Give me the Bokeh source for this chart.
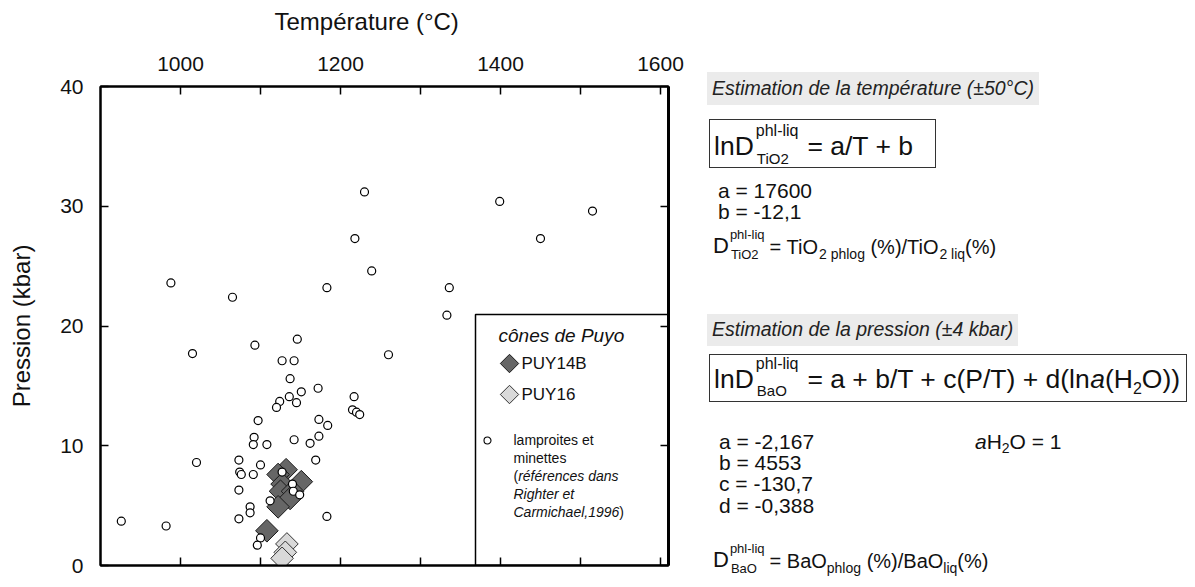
import numpy as np
from bokeh.plotting import figure
from bokeh.models import Range1d, LinearAxis, FixedTicker, BoxAnnotation, Label, Div
from bokeh.layouts import row, column
from bokeh.embed import file_html
from bokeh.resources import INLINE

FONT = "Liberation Sans"

# ---------------- data ----------------
lamp_T = [926, 982, 1015, 1020, 1093, 1146, 1127, 1142, 1137, 1151, 1136, 1145, 1172,
          1124, 1120, 1217, 1215, 1220, 1224, 1260, 1097, 1173, 1184, 1092, 1091, 1108,
          1142, 1173, 1162, 1073, 1100, 1169, 1074, 1076, 1091, 1073, 1087, 1087, 1073,
          1183, 1100, 1096, 1127, 1140, 1141, 1149, 1112,
          1230, 1218, 1239, 988, 1183, 1065, 1399, 1515, 1450, 1336, 1333]
lamp_P = [3.7, 3.3, 17.7, 8.6, 18.4, 18.9, 17.1, 17.1, 15.6, 14.5, 14.1, 13.6, 14.8,
          13.7, 13.2, 14.1, 13.0, 12.8, 12.6, 17.6, 12.1, 12.2, 11.7, 10.7, 10.1, 10.1,
          10.5, 10.8, 10.2, 8.8, 8.4, 8.8, 7.8, 7.6, 7.6, 6.3, 4.9, 4.4, 3.9,
          4.1, 2.3, 1.7, 7.8, 6.8, 6.2, 5.9, 5.4,
          31.2, 27.3, 24.6, 23.6, 23.2, 22.4, 30.4, 29.6, 27.3, 23.2, 20.9]

puy14b_T = [1132, 1122, 1151, 1127, 1125, 1140, 1137, 1122, 1108]
puy14b_P = [8.0, 7.6, 7.0, 6.8, 6.2, 6.2, 5.6, 4.9, 2.9]

puy16_T = [1133, 1131, 1127]
puy16_P = [1.8, 1.1, 0.6]

x_major = [1000, 1200, 1400, 1600]
x_minor = [1100, 1300, 1500]
y_major = [0, 10, 20, 30, 40]
X_MIN, X_MAX = 900, 1610
Y_MIN, Y_MAX = 0, 40

# ---------------- geometry (page pixels) ----------------
TOTAL_W, TOTAL_H = 1190, 582
TH = 40                       # height of the title strip
PW = 688                      # width of the plot
H = TOTAL_H - TH              # height of plot row
FL, FT, FR, FB = 100, 86, 668, 565   # frame edges in page pixels


def DX(X):
    return X_MIN + (X - FL) * (X_MAX - X_MIN) / (FR - FL)


def DY(Y):
    return Y_MIN + (FB - Y) * (Y_MAX - Y_MIN) / (FB - FT)


AW = {' ': 278, '!': 278, '%': 889, '(': 333, ')': 333, '+': 584, ',': 278, '-': 333,
      '.': 278, '/': 278, '=': 584, '°': 400, '±': 584, 'é': 556, 'ô': 556,
      'A': 667, 'B': 667, 'C': 722, 'D': 722, 'E': 667, 'H': 722, 'I': 278, 'O': 778,
      'P': 667, 'R': 722, 'T': 611, 'U': 722, 'Y': 667,
      'a': 556, 'b': 556, 'c': 500, 'd': 556, 'e': 556, 'f': 278, 'g': 556, 'h': 556,
      'i': 222, 'k': 500, 'l': 222, 'm': 833, 'n': 556, 'o': 556, 'p': 556, 'q': 556,
      'r': 333, 's': 500, 't': 278, 'u': 556, 'v': 500, 'y': 500}


def tw(s, size):
    return sum(AW.get(c, 556) for c in s) / 1000.0 * size


p = figure(width=PW, height=H, x_range=Range1d(X_MIN, X_MAX), y_range=Range1d(Y_MIN, Y_MAX),
           output_backend="svg", toolbar_location=None,
           x_axis_location=None, y_axis_location=None,
           min_border_left=FL, min_border_right=PW - FR, min_border_top=FT - TH,
           min_border_bottom=TOTAL_H - FB)
p.grid.visible = False
p.outline_line_color = "black"
p.outline_line_width = 2
p.background_fill_color = "white"
p.border_fill_color = "white"


def style_axis(ax, labels=True):
    ax.major_tick_in = 8
    ax.major_tick_out = 0
    ax.minor_tick_in = 8
    ax.minor_tick_out = 0
    ax.major_tick_line_width = 1.5
    ax.minor_tick_line_width = 1.5
    ax.axis_line_width = 2
    ax.axis_line_color = "black"
    ax.major_label_text_font = FONT
    ax.axis_label_text_font = FONT
    ax.axis_label_text_font_style = "normal"
    ax.major_label_text_color = "#111111"
    ax.axis_label_text_color = "#111111"
    if not labels:
        ax.major_label_text_font_size = "1px"
        ax.major_label_standoff = 0


top = LinearAxis(ticker=FixedTicker(ticks=x_major, minor_ticks=x_minor))
style_axis(top)
top.major_label_text_font_size = "21px"
top.major_label_standoff = 16
p.add_layout(top, "above")

bot = LinearAxis(ticker=FixedTicker(ticks=x_major, minor_ticks=x_minor))
style_axis(bot, labels=False)
bot.major_label_overrides = {t: "" for t in x_major}
p.add_layout(bot, "below")

left = LinearAxis(ticker=FixedTicker(ticks=y_major), axis_label="Pression (kbar)")
style_axis(left)
left.major_label_text_font_size = "21px"
left.axis_label_text_font_size = "24px"
left.major_label_standoff = 17
left.axis_label_standoff = 22
p.add_layout(left, "left")

right = LinearAxis(ticker=FixedTicker(ticks=y_major))
style_axis(right, labels=False)
right.axis_line_width = 3
right.major_label_overrides = {t: "" for t in y_major}
p.add_layout(right, "right")

# data marks
p.scatter(puy16_T, puy16_P, marker="square", angle=np.pi / 4, size=16,
          fill_color="#d9d9d9", line_color="#333333", line_width=1)
p.scatter(puy14b_T, puy14b_P, marker="square", angle=np.pi / 4, size=16,
          fill_color="#666666", line_color="#1a1a1a", line_width=1)
p.scatter(lamp_T, lamp_P, marker="circle", size=8, fill_color="white",
          line_color="black", line_width=1.2)


def dput(X, Y, s, size, italic=False):
    p.add_layout(Label(x=DX(X), y=DY(Y), text=s, text_font=FONT, text_font_size=f"{size}px",
                       text_font_style="italic" if italic else "normal", text_baseline="middle",
                       text_align="left", text_color="#111111"))


# ---------------- legend box ----------------
p.add_layout(BoxAnnotation(left=DX(475), right=X_MAX, bottom=Y_MIN, top=DY(314),
                           fill_color=None, fill_alpha=0, line_color="black", line_alpha=1.0,
                           line_width=1.5))
dput(498, 335, "cônes de Puyo", 19, italic=True)
p.scatter([DX(509)], [DY(363)], marker="square", angle=np.pi / 4, size=13,
          fill_color="#666666", line_color="#1a1a1a", line_width=1)
dput(521, 363, "PUY14B", 17)
p.scatter([DX(509)], [DY(394)], marker="square", angle=np.pi / 4, size=13,
          fill_color="#d9d9d9", line_color="#333333", line_width=1)
dput(521, 394, "PUY16", 17)
p.scatter([DX(487)], [DY(440)], marker="circle", size=7, fill_color="white",
          line_color="black", line_width=1.1)
LX = 513
LS = 14
ly = [439, 457, 475, 493, 511]
dput(LX, ly[0], "lamproites et", LS)
dput(LX, ly[1], "minettes", LS)
dput(LX, ly[2], "(", LS)
dput(LX + tw("(", LS), ly[2], "références dans", LS, italic=True)
dput(LX, ly[3], "Righter et", LS, italic=True)
dput(LX, ly[4], "Carmichael,1996", LS, italic=True)
dput(LX + tw("Carmichael,1996", LS), ly[4], ")", LS)


# ---------------- HTML helpers (page pixel positions) ----------------
def make_span(ox, oy):
    def span(parts, X, base, s, size, italic=False, color="#111111"):
        top_ = base - 0.8465 * size
        st = "italic" if italic else "normal"
        parts.append(f'<span style="position:absolute;left:{X - ox:.1f}px;top:{top_ - oy:.1f}px;'
                     f'font-family:\'{FONT}\';font-size:{size}px;line-height:1;font-style:{st};'
                     f'color:{color};white-space:pre;">{s}</span>')
    return span


# title strip (axis title of the top temperature axis)
tparts = []
tspan = make_span(0, 0)
ttl = "Température (°C)"
tspan(tparts, 368 - tw(ttl, 24) / 2, 22 + 0.3465 * 24, ttl, 24)
title_div = Div(text=f'<div style="position:relative;width:{TOTAL_W}px;height:{TH}px;'
                     f'background:white;overflow:hidden;">' + "".join(tparts) + "</div>",
                width=TOTAL_W, height=TH, margin=0)

# right panel
DW = TOTAL_W - PW
parts = []
_span = make_span(PW, TH)


def span(X, base, s, size, italic=False, color="#111111"):
    _span(parts, X, base, s, size, italic, color)


def mid(X, Y, s, size, italic=False, color="#111111"):
    span(X, Y + 0.3465 * size, s, size, italic, color)


def box(l, r, t, b, fill=None, line=None):
    bg = f"background:{fill};" if fill else ""
    bd = f"border:1px solid {line};" if line else ""
    parts.append(f'<div style="position:absolute;box-sizing:border-box;left:{l - PW}px;top:{t - TH}px;'
                 f'width:{r - l}px;height:{b - t}px;{bg}{bd}"></div>')


def run(x, base, items):
    for s, size, dyy, it in items:
        span(x, base + dyy, s, size, it)
        x += tw(s, size)
    return x


XL = 712
HS = 19.5
h1 = "Estimation de la température (±50°C)"
box(XL - 5, XL + tw(h1, HS) + 4, 72, 105, fill="#ebebeb")
mid(XL, 88.5, h1, HS, italic=True, color="#222222")

FS = 26.5
box(XL - 3, 936, 119, 168, line="#333333")
B = 155.5
x = run(XL + 2, B, [("lnD", FS, 0, False)])
span(x + 2, B - 19, "phl-liq", 16)
span(x + 3, B + 8, "TiO2", 15)
x = x + 2 + tw("phl-liq", 16) + 9
run(x, B, [("= a/T + b", FS, 0, False)])

RS = 21
RSP = 21.4
mid(XL + 6, 190, "a = 17600", RS)
mid(XL + 6, 190 + RSP, "b = -12,1", RS)


def d_row(base, sub):
    x = run(XL + 1, base, [("D", 22, 0, False)])
    span(x + 1, base - 15, "phl-liq", 13)
    span(x + 2, base + 5, sub, 13)
    return x + 1 + tw("phl-liq", 13) + 5


MS, SS = 20, 14
B = 254
x = d_row(B, "TiO2")
run(x, B, [("= TiO", MS, 0, False), ("2 phlog", SS, 5, False), (" (%)/TiO", MS, 0, False),
           ("2 liq", SS, 5, False), ("(%)", MS, 0, False)])

h2 = "Estimation de la pression (±4 kbar)"
box(XL - 5, XL + tw(h2, HS) + 4, 314, 346, fill="#ebebeb")
mid(XL, 330, h2, HS, italic=True, color="#222222")

box(XL - 3, 1187, 354, 402, line="#333333")
B = 388
x = run(XL + 2, B, [("lnD", FS, 0, False)])
span(x + 2, B - 19, "phl-liq", 16)
span(x + 3, B + 8, "BaO", 15)
x = x + 2 + tw("phl-liq", 16) + 9
run(x, B, [("= a + b/T + c(P/T) + d(ln", FS, 0, False), ("a", FS, 0, True), ("(H", FS, 0, False),
           ("2", 16, 6, False), ("O))", FS, 0, False)])

row_txt = ["a = -2,167", "b = 4553", "c = -130,7", "d = -0,388"]
A0 = 441
for i, s in enumerate(row_txt):
    mid(XL + 7, A0 + i * RSP, s, RS)
run(975, A0 + 0.3465 * RS, [("a", RS, 0, True), ("H", RS, 0, False), ("2", 14, 5, False),
                            ("O = 1", RS, 0, False)])

B = 568
x = d_row(B, "BaO")
run(x, B, [("= BaO", MS, 0, False), ("phlog", SS, 5, False), (" (%)/BaO", MS, 0, False),
           ("liq", SS, 5, False), ("(%)", MS, 0, False)])

panel = Div(text=f'<div style="position:relative;width:{DW}px;height:{H}px;background:white;'
                 f'overflow:hidden;">' + "".join(parts) + "</div>",
            width=DW, height=H, margin=0)

layout = column(title_div, row(p, panel, spacing=0), spacing=0)
open("out.html", "w").write(file_html(layout, INLINE))
